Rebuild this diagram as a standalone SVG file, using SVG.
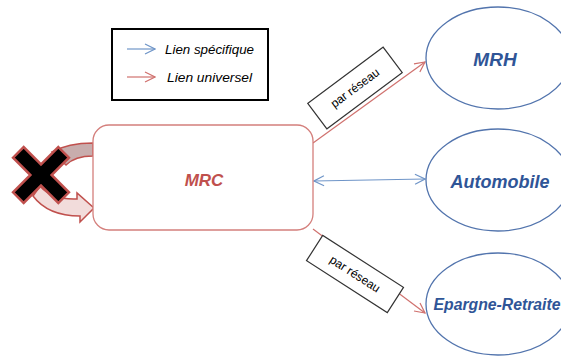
<svg xmlns="http://www.w3.org/2000/svg" width="561" height="358" viewBox="0 0 561 358">
<defs>
<style>
.red{stroke:#d0716e;stroke-width:1.2;fill:none}
.blue{stroke:#6f95c8;stroke-width:1.2;fill:none}
.ell{fill:#fff;stroke:#5274ad;stroke-width:1.3}
.etxt{font-family:"Liberation Sans",Arial,sans-serif;font-style:italic;font-weight:bold;fill:#2f5597;text-anchor:middle}
.lbl{font-family:"Liberation Sans",Arial,sans-serif;font-size:12px;fill:#000;text-anchor:middle}
.leg{font-family:"Liberation Sans",Arial,sans-serif;font-style:italic;font-size:13px;fill:#000}
</style>
<marker id="ar" viewBox="0 0 12 12" refX="11" refY="6" markerWidth="12" markerHeight="12" markerUnits="userSpaceOnUse" orient="auto-start-reverse">
<path d="M1 1 L11 6 L1 11" fill="none" stroke="#d0716e" stroke-width="1.2"/>
</marker>
<marker id="ab" viewBox="0 0 12 12" refX="11" refY="6" markerWidth="12" markerHeight="12" markerUnits="userSpaceOnUse" orient="auto-start-reverse">
<path d="M1 1 L11 6 L1 11" fill="none" stroke="#6f95c8" stroke-width="1.2"/>
</marker>
</defs>
<rect width="561" height="358" fill="#fff"/>

<g id="legend">
<rect x="112" y="29" width="156" height="71" fill="#fff" stroke="#000" stroke-width="2"/>
<line x1="127" y1="49" x2="155" y2="49" class="blue" marker-end="url(#ab)"/>
<line x1="127" y1="77" x2="155" y2="77" class="red" marker-end="url(#ar)"/>
<text x="165" y="53.5" class="leg" textLength="89" lengthAdjust="spacingAndGlyphs">Lien spécifique</text>
<text x="167" y="81.5" class="leg" textLength="85" lengthAdjust="spacingAndGlyphs">Lien universel</text>
</g>

<g id="connectors">
<line x1="313" y1="143" x2="425" y2="62" class="red" marker-end="url(#ar)"/>
<line x1="314" y1="181" x2="425" y2="179" class="blue" marker-start="url(#ab)" marker-end="url(#ab)"/>
<line x1="313" y1="229" x2="425" y2="313" class="red" marker-end="url(#ar)"/>
</g>

<g id="lbl-top">
<g transform="translate(355,88) rotate(-36.7)">
<rect x="-47" y="-16" width="94" height="32" fill="#fff" stroke="#333" stroke-width="1.2"/>
<text x="0" y="4" class="lbl">par réseau</text>
</g>
</g>
<g id="lbl-bottom">
<g transform="translate(355,274) rotate(32.7)">
<rect x="-48" y="-15" width="96" height="30" fill="#fff" stroke="#333" stroke-width="1.2"/>
<text x="0" y="4" class="lbl">par réseau</text>
</g>
</g>

<g id="self-loop">
<path d="M52 152 Q68 143 93 143 L93 156 Q75 156 66 165 Z" fill="#c8adad" stroke="#c0504d" stroke-width="1.5"/>
<path d="M40 186 Q52 200 77 199 L77 193 L94 208 L80 222 L80 216 Q48 216 33 196 Z" fill="#f2dcdb" stroke="#c0504d" stroke-width="1.5"/>
<path transform="translate(41,175) rotate(45)" d="M-7.5 -32 L7.5 -32 L7.5 -7.5 L32 -7.5 L32 7.5 L7.5 7.5 L7.5 32 L-7.5 32 L-7.5 7.5 L-32 7.5 L-32 -7.5 L-7.5 -7.5 Z" fill="#000" stroke="#c0504d" stroke-width="2.5" stroke-linejoin="miter"/>
</g>

<g id="MRC">
<rect x="93" y="125" width="220" height="105" rx="16" fill="#fff" stroke="#d47f7c" stroke-width="1.3"/>
<text x="204" y="186" font-family="'Liberation Sans',Arial,sans-serif" font-style="italic" font-weight="bold" font-size="17" fill="#c0504d" text-anchor="middle">MRC</text>
</g>

<g id="MRH">
<ellipse cx="498" cy="58" rx="72" ry="51" class="ell"/>
<text x="495" y="66" class="etxt" font-size="19">MRH</text>
</g>
<g id="Automobile">
<ellipse cx="498" cy="180" rx="72" ry="51" class="ell"/>
<text x="500" y="188" class="etxt" font-size="18">Automobile</text>
</g>
<g id="Epargne-Retraite">
<ellipse cx="498" cy="304" rx="72" ry="51" class="ell"/>
<text x="497" y="310" class="etxt" font-size="16" textLength="127" lengthAdjust="spacingAndGlyphs">Epargne-Retraite</text>
</g>
</svg>
